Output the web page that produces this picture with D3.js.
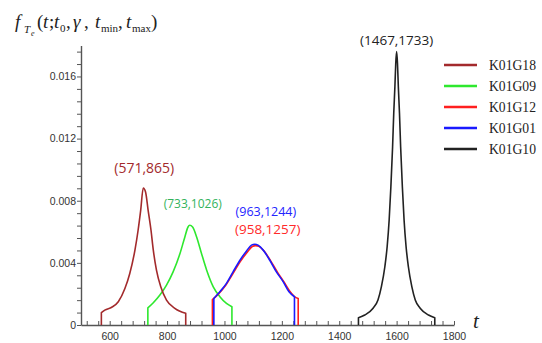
<!DOCTYPE html>
<html>
<head>
<meta charset="utf-8">
<script src="https://cdn.jsdelivr.net/npm/d3@7"></script>
<style>
    body { margin: 0; background: #fff; }
    .axis text { font-family: "Liberation Sans", Arial, sans-serif; font-size: 10.5px; fill: #333; }
    .axis path, .axis line { stroke: #555; }
</style>
</head>
<body>
<div id="chart"></div>
<script>
// Values: [t, f(t)] for each detector.
var seriesNames = ['K01G18', 'K01G09', 'K01G12', 'K01G01', 'K01G10'];
var rangeLabels = ['(571,865)', '(733,1026)', '(958,1257)', '(963,1244)', '(1467,1733)'];

var k01g18 = [[571, 0.00079], [583, 0.00096], [607, 0.00114], [630, 0.0015], [653, 0.00235],
    [670, 0.00332], [688, 0.00482], [699, 0.0061], [708, 0.00738], [717, 0.00882],
    [725, 0.00856], [734, 0.00738], [744, 0.0061], [752, 0.00482], [763, 0.00353],
    [778, 0.00246], [798, 0.0016], [827, 0.00107], [865, 0.00075]];
var k01g09 = [[733, 0.0011], [752, 0.00143], [775, 0.00193], [798, 0.00257], [821, 0.00342],
    [845, 0.0046], [862, 0.00567], [873, 0.00631], [879, 0.00642], [889, 0.00631],
    [903, 0.00567], [920, 0.0046], [938, 0.00353], [961, 0.00246], [984, 0.00182],
    [1007, 0.00139], [1026, 0.00118]];
var k01g12 = [[958, 0.00163], [980, 0.00202], [1005, 0.00258], [1030, 0.00332], [1055, 0.00408],
    [1080, 0.0047], [1097, 0.00505], [1109, 0.00511], [1120, 0.00506], [1138, 0.00476],
    [1161, 0.00413], [1185, 0.00339], [1208, 0.00275], [1229, 0.00214], [1244, 0.00183],
    [1257, 0.0017]];
var k01g01 = [[963, 0.00171], [984, 0.00214], [1007, 0.00268], [1030, 0.00342], [1054, 0.00417],
    [1077, 0.00477], [1094, 0.00514], [1106, 0.0052], [1117, 0.00514], [1135, 0.00482],
    [1158, 0.00417], [1181, 0.00342], [1205, 0.00278], [1225, 0.00214], [1244, 0.00182]];
var k01g10 = [[1467, 0.00047], [1489, 0.00064], [1518, 0.00108], [1535, 0.00161], [1547, 0.00247],
    [1559, 0.00375], [1567, 0.00504], [1574, 0.00676], [1580, 0.0089], [1586, 0.01148],
    [1590, 0.01363], [1594, 0.01534], [1597, 0.01685], [1600, 0.0176], [1603, 0.01685],
    [1606, 0.01534], [1610, 0.01363], [1614, 0.01148], [1620, 0.0089], [1626, 0.00676],
    [1633, 0.00504], [1641, 0.00375], [1653, 0.00247], [1665, 0.00161], [1682, 0.00108],
    [1711, 0.00064], [1733, 0.00047]];

var xTicks = [600, 800, 1000, 1200, 1400, 1600, 1800];
var yTicks = [0, 0.004, 0.008, 0.012, 0.016];

(function () {
    var width = 542,
        height = 343,
        allSeries = [k01g18, k01g09, k01g12, k01g01, k01g10],

        // Styles
        colors = ['#a32a2c', '#2ee82e', '#ff1f1f', '#1a1aff', '#222222'],
        labelColors = ['#a32a2c', '#33b35c', '#ff2a2a', '#2424ff', '#222222'],
        labelSizes = [14, 12, 13.5, 12.5, 13.5],
        labelOffsets = [[1, -15], [3, -17], [12, -12], [11, -28], [0, -7]],
        drawOrder = [1, 0, 2, 3, 4];

    var svg = d3.select('#chart').append('svg')
        .attr('width', width)
        .attr('height', height);

    var x = d3.scaleLinear().domain([500, 1800]).range([81, 454]),
        y = d3.scaleLinear().domain([0, 0.018]).range([325, 45.4]);

    // Minor ticks every 40 on t, every 0.0008 on f; only the majors get labels.
    var xAxis = d3.axisBottom(x)
        .tickValues(d3.range(520, 1801, 40))
        .tickSizeInner(-4)
        .tickSizeOuter(0)
        .tickPadding(8)
        .tickFormat(function (d) { return xTicks.indexOf(d) >= 0 ? d : ''; });

    var yAxis = d3.axisLeft(y)
        .tickValues(d3.range(0, 23).map(function (i) { return i * 0.0008; }))
        .tickSizeInner(4)
        .tickSizeOuter(0)
        .tickPadding(1)
        .tickFormat(function (d) {
            var major = yTicks.filter(function (v) { return Math.abs(v - d) < 1e-9; });
            return major.length ? String(major[0]) : '';
        });

    svg.append('g')
        .attr('class', 'axis')
        .attr('transform', 'translate(0,' + y(0) + ')')
        .call(xAxis)
        .select('.domain').attr('stroke-width', 1.4);

    svg.append('g')
        .attr('class', 'axis')
        .attr('transform', 'translate(' + x(500) + ',0)')
        .call(yAxis)
        .select('.domain').attr('stroke-width', 1.4);

    // Curve body is smooth, the cut-offs at t_min and t_max drop straight to zero.
    var line = d3.line()
        .x(function (d) { return x(d[0]); })
        .y(function (d) { return y(d[1]); })
        .curve(d3.curveMonotoneX);

    drawOrder.forEach(function (i) {
        var pts = allSeries[i],
            first = pts[0],
            last = pts[pts.length - 1],
            body = line(pts);
        var path = 'M' + x(first[0]) + ',' + y(0) + 'L' + body.slice(1) +
            'L' + x(last[0]) + ',' + y(0);
        svg.append('path')
            .attr('d', path)
            .attr('fill', 'none')
            .attr('stroke', colors[i])
            .attr('stroke-width', 1.6)
            .attr('stroke-linejoin', 'round');
    });

    // (t_min, t_max) labels sit above each peak.
    allSeries.forEach(function (pts, i) {
        var peak = pts.reduce(function (a, b) { return b[1] > a[1] ? b : a; });
        svg.append('text')
            .attr('x', x(peak[0]) + labelOffsets[i][0])
            .attr('y', y(peak[1]) + labelOffsets[i][1])
            .attr('text-anchor', 'middle')
            .attr('font-family', '"Open Sans", sans-serif')
            .attr('font-size', labelSizes[i] + 'px')
            .attr('fill', labelColors[i])
            .text(rangeLabels[i]);
    });

    // Legend, no frame.
    var legend = svg.append('g').attr('transform', 'translate(444,65)');
    seriesNames.forEach(function (name, i) {
        var row = legend.append('g').attr('transform', 'translate(0,' + i * 21 + ')');
        row.append('line')
            .attr('x1', 0).attr('x2', 33)
            .attr('stroke', colors[i])
            .attr('stroke-width', 2.5);
        row.append('text')
            .attr('x', 45)
            .attr('y', 5)
            .attr('font-family', '"Liberation Serif", serif')
            .attr('font-size', '15px')
            .attr('textLength', 47)
            .attr('lengthAdjust', 'spacingAndGlyphs')
            .attr('fill', '#222')
            .text(name);
    });

    // Axis titles in math style.
    var title = svg.append('text')
        .attr('font-family', '"Liberation Serif", serif')
        .attr('fill', '#222');
    var parts = [
        ['f', 15, 28, 19, true], ['T', 24, 33, 11, true], ['e', 31, 36, 8, true],
        ['(', 37, 28, 19, false], ['t', 43, 28, 19, true], [';', 49, 28, 19, false],
        ['t', 54, 28, 19, true], ['0', 60, 32, 11, false], [',', 66, 28, 19, false],
        ['\u03b3', 73, 28, 19, true], [',', 84, 28, 19, false], ['t', 95, 28, 19, true],
        ['min', 101, 32, 11, false], [',', 118, 28, 19, false], ['t', 126, 28, 19, true],
        ['max', 132, 32, 11, false], [')', 151, 28, 19, false]
    ];
    parts.forEach(function (p) {
        title.append('tspan')
            .attr('x', p[1])
            .attr('y', p[2])
            .attr('font-size', p[3] + 'px')
            .attr('font-style', p[4] ? 'italic' : 'normal')
            .text(p[0]);
    });

    svg.append('text')
        .attr('x', 473)
        .attr('y', 328)
        .attr('font-family', '"Liberation Serif", serif')
        .attr('font-style', 'italic')
        .attr('font-size', '21px')
        .attr('fill', '#222')
        .text('t');
}());
</script>
</body>
</html>
